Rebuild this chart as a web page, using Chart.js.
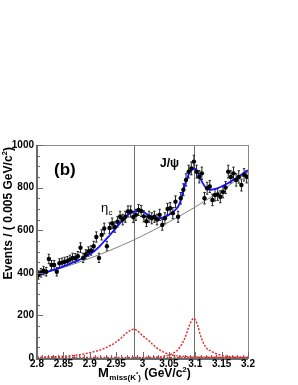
<!DOCTYPE html>
<html>
<head>
<script src="https://cdn.jsdelivr.net/npm/chart.js@4.4.0/dist/chart.umd.min.js"></script>
<style>
  body { margin: 0; background: #fff; }
  #wrap { width: 298px; height: 385px; }
</style>
</head>
<body>
<div id="wrap"><canvas id="missChart" width="298" height="385"></canvas></div>
<script>
// histogram binning (2.8 - 3.2, 0.005 GeV/c2 bins)
var binLow = 2.8, binWidth = 0.005;

// events per bin
var events = [390, 400, 410, 405, 465, 437, 437, 405, 445, 448,
              452, 455, 462, 470, 468, 478, 518, 470, 486, 500,
              505, 525, 568, 470, 578, 608, 525, 610, 632, 615,
              640, 663, 650, 663, 688, 688, 662, 672, 695, 690,
              665, 642, 663, 656, 663, 650, 672, 625, 656, 700,
              703, 680, 734, 663, 750, 790, 836, 875, 890, 922,
              875, 851, 867, 750, 797, 805, 742, 765, 768, 757,
              780, 800, 875, 850, 867, 836, 850, 812, 860, 851];
var errors = [20, 20, 20, 20, 22, 21, 21, 20, 21, 21,
              21, 21, 21, 22, 22, 22, 23, 22, 22, 22,
              22, 23, 24, 22, 24, 25, 23, 25, 25, 25,
              25, 26, 25, 26, 26, 26, 26, 26, 26, 26,
              26, 25, 26, 26, 26, 25, 26, 25, 26, 26,
              27, 26, 27, 26, 27, 28, 29, 30, 30, 30,
              30, 29, 29, 27, 28, 28, 27, 28, 28, 28,
              28, 28, 30, 29, 29, 29, 29, 28, 29, 29];

// total fit (blue)
var fitMass = [2.80, 2.81, 2.82, 2.83, 2.84, 2.85, 2.86, 2.87, 2.88, 2.89, 2.90,
               2.91, 2.92, 2.93, 2.94, 2.95, 2.96, 2.97, 2.98, 2.99, 3.00,
               3.01, 3.02, 3.03, 3.04, 3.05, 3.06, 3.07, 3.08, 3.09, 3.10,
               3.11, 3.12, 3.13, 3.14, 3.15, 3.16, 3.17, 3.18, 3.19, 3.20];
var fitVal  = [388, 396, 405, 412, 420, 430, 440, 450, 460, 473, 488,
               505, 528, 555, 582, 612, 640, 668, 684, 690, 688,
               672, 660, 656, 660, 672, 690, 722, 810, 875, 888,
               840, 800, 790, 795, 805, 818, 832, 848, 865, 882];

// background (gray)
var bkgMass = [2.80, 2.82, 2.84, 2.86, 2.88, 2.90, 2.92, 2.94, 2.96, 2.98, 3.00,
               3.02, 3.04, 3.06, 3.08, 3.10, 3.12, 3.14, 3.16, 3.18, 3.20];
var bkgVal  = [390, 403, 418, 433, 450, 468, 487, 507, 528, 550, 574,
               599, 625, 652, 680, 709, 740, 771, 804, 838, 873];

// eta_c signal (red dotted)
var etaMass = [2.80, 2.85, 2.88, 2.90, 2.92, 2.94, 2.95, 2.96, 2.97, 2.98, 2.985,
               2.99, 3.00, 3.01, 3.02, 3.03, 3.04, 3.05, 3.06, 3.08, 3.10, 3.15, 3.20];
var etaSig  = [3, 8, 15, 25, 38, 60, 75, 95, 118, 133, 135,
               128, 105, 85, 62, 42, 28, 18, 12, 7, 5, 3, 2];

// J/psi signal (red dotted)
var jpsiMass = [2.98, 3.02, 3.04, 3.06, 3.07, 3.08, 3.09, 3.097, 3.105, 3.11,
                3.12, 3.13, 3.14, 3.16, 3.18, 3.20];
var jpsiSig  = [1, 3, 8, 25, 48, 92, 160, 186, 150, 105,
                50, 32, 20, 8, 4, 3];

// small flat component lying on the axis (red dotted)
var flatMass = [2.80, 3.20];
var flatVal  = [2, 2];

var resonanceLines = [2.983, 3.097];
var yTicks = [0, 200, 400, 600, 800, 1000];
var xTicks = ['2.8', '2.85', '2.9', '2.95', '3', '3.05', '3.1', '3.15', '3.2'];

function pairs(xs, ys) {
    var out = [];
    for (var i = 0; i < xs.length; i++) out.push({x: xs[i], y: ys[i]});
    return out;
}
var histPoints = [];
for (var i = 0; i < events.length; i++) {
    histPoints.push({x: binLow + binWidth * (i + 0.5), y: events[i], e: errors[i]});
}

var FONT = "'Liberation Sans', Arial, sans-serif";

// frame, ticks, labels, lines, error bars and texts
var decor = {
    id: 'decor',
    beforeDatasetsDraw: function(chart) {
        var ctx = chart.ctx, a = chart.chartArea;
        var xs = chart.scales.x, ys = chart.scales.y;
        ctx.save();
        // vertical resonance lines
        ctx.strokeStyle = '#6e6e6e';
        ctx.lineWidth = 1;
        resonanceLines.forEach(function(m) {
            var px = Math.round(xs.getPixelForValue(m)) + 0.5;
            ctx.beginPath(); ctx.moveTo(px, a.top); ctx.lineTo(px, a.bottom); ctx.stroke();
        });
        // error bars
        ctx.strokeStyle = '#222';
        histPoints.forEach(function(p) {
            var px = xs.getPixelForValue(p.x);
            var y1 = ys.getPixelForValue(p.y - p.e), y2 = ys.getPixelForValue(p.y + p.e);
            ctx.beginPath();
            ctx.moveTo(px, y1); ctx.lineTo(px, y2);
            ctx.moveTo(px - 1.2, y1); ctx.lineTo(px + 1.2, y1);
            ctx.moveTo(px - 1.2, y2); ctx.lineTo(px + 1.2, y2);
            ctx.stroke();
        });
        ctx.restore();
    },
    afterDraw: function(chart) {
        var ctx = chart.ctx, a = chart.chartArea;
        var xs = chart.scales.x, ys = chart.scales.y;
        ctx.save();
        // frame
        ctx.strokeStyle = '#8a8a8a';
        ctx.lineWidth = 1;
        ctx.strokeRect(a.left + 0.5, a.top + 0.5, a.right - a.left, a.bottom - a.top);
        ctx.strokeStyle = '#6a6a6a';
        ctx.lineWidth = 2;
        ctx.beginPath();
        ctx.moveTo(a.left, a.top); ctx.lineTo(a.left, a.bottom + 1); ctx.lineTo(a.right, a.bottom + 1);
        ctx.stroke();
        // y ticks
        ctx.lineWidth = 1;
        for (var v = 0; v <= 1000; v += 50) {
            var py = Math.round(ys.getPixelForValue(v)) + 0.5;
            var len = (v % 200 === 0) ? 6 : 3;
            ctx.beginPath(); ctx.moveTo(a.left, py); ctx.lineTo(a.left + len, py); ctx.stroke();
        }
        // x ticks
        for (var k = 0; k <= 40; k++) {
            var px = Math.round(xs.getPixelForValue(2.8 + k * 0.01)) + 0.5;
            var l2 = (k % 5 === 0) ? 6 : 3;
            ctx.beginPath(); ctx.moveTo(px, a.bottom); ctx.lineTo(px, a.bottom - l2); ctx.stroke();
        }

        ctx.fillStyle = '#000';
        // tick labels
        ctx.font = 'bold 10px ' + FONT;
        ctx.textAlign = 'right';
        ctx.textBaseline = 'middle';
        yTicks.forEach(function(t) {
            ctx.fillText(String(t), a.left - 3, ys.getPixelForValue(t));
        });
        ctx.textAlign = 'center';
        ctx.textBaseline = 'alphabetic';
        xTicks.forEach(function(t) {
            ctx.fillText(t, xs.getPixelForValue(parseFloat(t)), a.bottom + 9);
        });

        ctx.textAlign = 'left';
        // panel label
        ctx.font = 'bold 17px ' + FONT;
        ctx.fillText('(b)', 54, 175);
        // eta_c
        ctx.font = '13px ' + FONT;
        ctx.fillText('\u03b7', 101, 212);
        ctx.font = '8px ' + FONT;
        ctx.fillText('c', 108.5, 215);
        // J/psi
        ctx.font = 'bold 12px ' + FONT;
        ctx.fillText('J/\u03c8', 160, 167);

        // y axis title, aligned to the top of the axis
        ctx.save();
        ctx.translate(12, a.top + 2);
        ctx.rotate(-Math.PI / 2);
        ctx.font = 'bold 12px ' + FONT;
        var p1 = 'Events / ( 0.005 GeV/c', p3 = ')';
        var w1 = ctx.measureText(p1).width, w3 = ctx.measureText(p3).width;
        ctx.font = 'bold 8px ' + FONT;
        var w2 = ctx.measureText('2').width;
        var start = -(w1 + w2 + w3);
        ctx.font = 'bold 12px ' + FONT;
        ctx.fillText(p1, start, 0);
        ctx.font = 'bold 8px ' + FONT;
        ctx.fillText('2', start + w1, -5);
        ctx.font = 'bold 12px ' + FONT;
        ctx.fillText(p3, start + w1 + w2, 0);
        ctx.restore();

        // x axis title
        var x0 = 98, yb = 377;
        ctx.font = 'bold 13px ' + FONT;
        ctx.fillText('M', x0, yb);
        x0 += ctx.measureText('M').width + 0.5;
        ctx.font = 'bold 8px ' + FONT;
        ctx.fillText('miss(K', x0, yb + 3);
        x0 += ctx.measureText('miss(K').width;
        ctx.font = 'bold 6px ' + FONT;
        ctx.fillText('*', x0, yb - 1);
        x0 += ctx.measureText('*').width;
        ctx.font = 'bold 8px ' + FONT;
        ctx.fillText(')', x0, yb + 3);
        x0 += ctx.measureText(')').width;
        ctx.font = 'bold 12px ' + FONT;
        ctx.fillText(' (GeV/c', x0, yb);
        x0 += ctx.measureText(' (GeV/c').width;
        ctx.font = 'bold 8px ' + FONT;
        ctx.fillText('2', x0, yb - 5);
        x0 += ctx.measureText('2').width;
        ctx.font = 'bold 12px ' + FONT;
        ctx.fillText(')', x0, yb);
        ctx.restore();
    }
};

var redDotted = {
    showLine: true,
    borderColor: '#ee2222',
    borderWidth: 1.4,
    borderDash: [2, 1.5],
    pointRadius: 0,
    cubicInterpolationMode: 'monotone'
};

var ctx = document.getElementById('missChart').getContext('2d');
var chart = new Chart(ctx, {
    type: 'scatter',
    data: {
        datasets: [
            {   // data points
                data: histPoints,
                pointRadius: 2.2,
                pointBackgroundColor: '#000',
                pointBorderWidth: 0,
                showLine: false,
                order: 0
            },
            {   // total fit
                data: pairs(fitMass, fitVal),
                showLine: true,
                borderColor: '#1010ff',
                borderWidth: 1.8,
                pointRadius: 0,
                cubicInterpolationMode: 'monotone',
                order: 1
            },
            {   // background
                data: pairs(bkgMass, bkgVal),
                showLine: true,
                borderColor: '#808080',
                borderWidth: 1,
                pointRadius: 0,
                cubicInterpolationMode: 'monotone',
                order: 2
            },
            Object.assign({ data: pairs(etaMass, etaSig), order: 3 }, redDotted),
            Object.assign({ data: pairs(jpsiMass, jpsiSig), order: 4 }, redDotted),
            Object.assign({ data: pairs(flatMass, flatVal), order: 5 }, redDotted)
        ]
    },
    options: {
        responsive: false,
        animation: false,
        layout: { padding: { left: 0, top: 145, right: 50, bottom: 0 } },
        plugins: { legend: { display: false }, tooltip: { enabled: false } },
        scales: {
            x: {
                type: 'linear', min: 2.8, max: 3.2,
                afterFit: function(s) { s.height = 27; },
                ticks: { display: false },
                grid: { display: false },
                border: { display: false }
            },
            y: {
                min: 0, max: 1000,
                afterFit: function(s) { s.width = 37; },
                ticks: { display: false },
                grid: { display: false },
                border: { display: false }
            }
        }
    },
    plugins: [decor]
});
</script>
</body>
</html>
